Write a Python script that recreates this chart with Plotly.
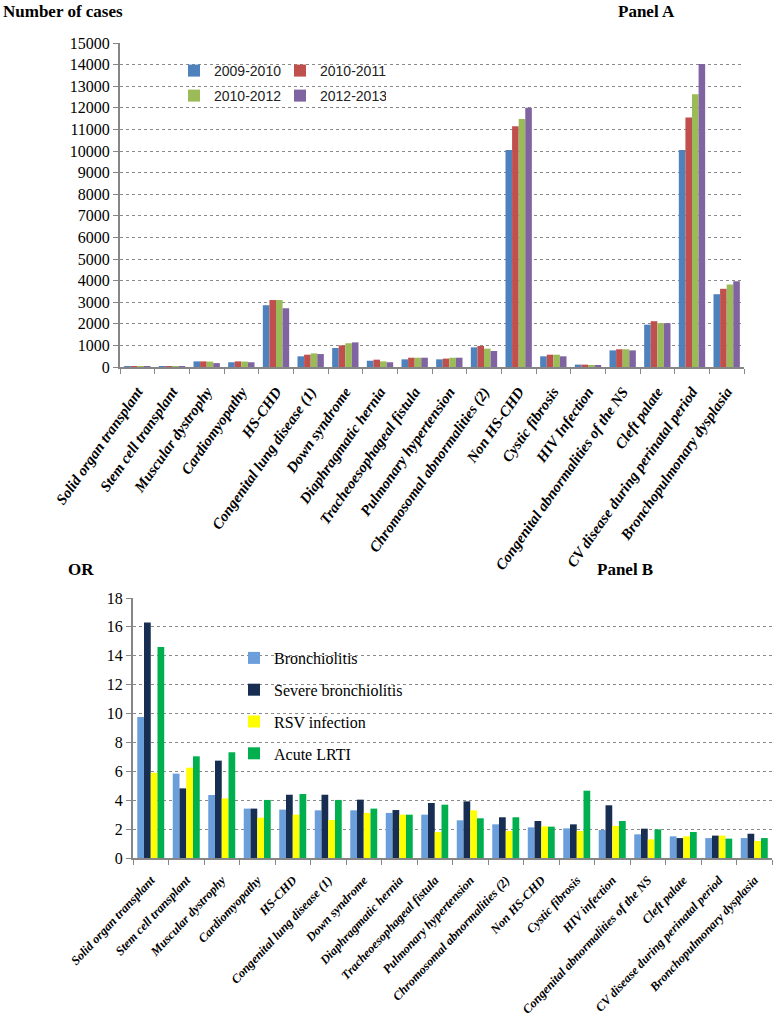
import plotly.graph_objects as go

cats_a = ["Solid organ transplant", "Stem cell transplant", "Muscular dystrophy", "Cardiomyopathy",
          "HS-CHD", "Congenital lung disease (1)", "Down syndrome", "Diaphragmatic hernia",
          "Tracheoesophageal fistula", "Pulmonary hypertension", "Chromosomal abnormalities (2)",
          "Non HS-CHD", "Cystic fibrosis", "HIV Infection", "Congenital abnormalities of the NS",
          "Cleft palate", "CV disease during perinatal period", "Bronchopulmonary dysplasia"]
cats_b = ["Solid organ transplant", "Stem cell transplant", "Muscular dystrophy", "Cardiomyopathy",
          "HS-CHD", "Congenital lung disease (1)", "Down syndrome", "Diaphragmatic hernia",
          "Tracheoesophageal fistula", "Pulmonary hypertension", "Chromosomal abnormalities (2)",
          "Non HS-CHD", "Cystic fibrosis", "HIV infection", "Congenital abnormalities of the NS",
          "Cleft palate", "CV disease during perinatal period", "Bronchopulmonary dysplasia"]

s2009_2010 = [15, 10, 260, 220, 2860, 495, 880, 290, 355, 355, 910, 10050, 495, 110, 770, 1960, 10050, 3370]
s2010_2011 = [15, 10, 260, 260, 3100, 570, 1000, 340, 430, 390, 975, 11150, 570, 110, 820, 2120, 11550, 3620]
s2010_2012 = [15, 10, 250, 250, 3100, 630, 1100, 260, 430, 430, 850, 11480, 570, 90, 820, 2030, 12630, 3820]
s2012_2013 = [15, 10, 180, 220, 2720, 600, 1140, 220, 430, 430, 740, 12000, 495, 60, 770, 2030, 14030, 3970]

bronchiolitis = [9.76, 5.84, 4.36, 3.42, 3.35, 3.30, 3.30, 3.12, 3.00, 2.61, 2.33, 2.12, 2.05, 1.94, 1.64, 1.50, 1.38, 1.38]
severe_bronch = [16.3, 4.82, 6.74, 3.42, 4.38, 4.38, 4.04, 3.32, 3.81, 3.92, 2.82, 2.56, 2.33, 3.65, 2.03, 1.38, 1.55, 1.68]
rsv_infection = [5.90, 6.25, 4.13, 2.79, 3.00, 2.63, 3.12, 3.00, 1.80, 3.30, 1.87, 2.19, 1.87, 2.22, 1.29, 1.50, 1.55, 1.18]
acute_lrti = [14.6, 7.04, 7.32, 4.02, 4.43, 4.02, 3.42, 3.00, 3.69, 2.75, 2.82, 2.17, 4.66, 2.56, 1.98, 1.80, 1.34, 1.38]

names_a = ["2009-2010", "2010-2011", "2010-2012", "2012-2013"]
colors_a = ["#4F81BD", "#C0504D", "#9BBB59", "#8064A2"]
names_b = ["Bronchiolitis", "Severe bronchiolitis", "RSV infection", "Acute LRTI"]
colors_b = ["#6A9FDC", "#172E52", "#FFFF00", "#00B04F"]

W, H = 777, 1020
SERIF = "Liberation Serif, Times New Roman, Times, serif"
SANS = "Liberation Sans, Arial, sans-serif"

fig = go.Figure()
for i, (nm, vals, col) in enumerate(zip(names_a, [s2009_2010, s2010_2011, s2010_2012, s2012_2013], colors_a)):
    fig.add_trace(go.Bar(x=cats_a, y=vals, name=nm, marker_color=col, marker_line_width=0,
                         xaxis="x", yaxis="y", legend="legend" if i < 2 else "legend2"))
for i, (nm, vals, col) in enumerate(zip(names_b, [bronchiolitis, severe_bronch, rsv_infection, acute_lrti], colors_b)):
    fig.add_trace(go.Bar(x=cats_b, y=vals, name=nm, marker_color=col, marker_line_width=0,
                         xaxis="x2", yaxis="y2", legend="legend3", legendgroup=nm))

def px_x(v):
    return v / W

def px_y(v):
    return 1 - v / H

xcommon = dict(type="category", showgrid=False, showline=True, linecolor="#868686", linewidth=2,
               ticks="outside", tickson="boundaries", ticklen=5, tickcolor="#868686", tickwidth=1,
               automargin=False, ticklabelstandoff=8)
ycommon = dict(showline=True, linecolor="#868686", linewidth=2, ticks="outside", ticklen=5,
               tickcolor="#868686", showgrid=True, gridcolor="#8a8a8a", griddash="dot", gridwidth=1,
               tickfont=dict(family=SERIF, size=16, color="black"), zeroline=False, automargin=False)

fig.update_layout(
    width=W, height=H, margin=dict(l=0, r=0, t=0, b=0, autoexpand=False),
    paper_bgcolor="white", plot_bgcolor="white",
    barmode="group", bargap=0.24, bargroupgap=0,
    xaxis=dict(xcommon, domain=[px_x(120), px_x(744)], anchor="y", tickangle=-55,
               tickfont=dict(family=SERIF, size=15, color="black"),
               tickvals=cats_a, ticktext=["<b><i>%s</i></b>" % c for c in cats_a]),
    yaxis=dict(ycommon, domain=[px_y(367), px_y(43)], anchor="x", range=[0, 15000],
               dtick=1000, tickformat="d"),
    xaxis2=dict(xcommon, domain=[px_x(133), px_x(772)], anchor="y2", tickangle=-47,
                tickfont=dict(family=SERIF, size=12.5, color="black"),
                tickvals=cats_b, ticktext=["<b><i>%s</i></b>" % c for c in cats_b]),
    yaxis2=dict(ycommon, domain=[px_y(858), px_y(598)], anchor="x2", range=[0, 18], dtick=2),
    legend=dict(orientation="h", x=px_x(174), y=px_y(71), xanchor="left", yanchor="middle",
                bgcolor="rgba(0,0,0,0)", font=dict(family=SANS, size=14, color="#222"),
                entrywidth=61, entrywidthmode="pixels", itemwidth=30),
    legend2=dict(orientation="h", x=px_x(174), y=px_y(96), xanchor="left", yanchor="middle",
                 bgcolor="rgba(0,0,0,0)", font=dict(family=SANS, size=14, color="#222"),
                 entrywidth=61, entrywidthmode="pixels", itemwidth=30),
    legend3=dict(orientation="v", x=px_x(234), y=px_y(641), xanchor="left", yanchor="top",
                 bgcolor="rgba(0,0,0,0)", font=dict(family=SERIF, size=16, color="black"),
                 tracegroupgap=8, traceorder="grouped", itemwidth=30),
    showlegend=True,
)

ann_font = dict(family=SERIF, size=17, color="black")
fig.add_annotation(text="<b>Number of cases</b>", x=px_x(1), y=px_y(12), xref="paper", yref="paper",
                   xanchor="left", yanchor="middle", showarrow=False, font=ann_font)
fig.add_annotation(text="<b>Panel A</b>", x=px_x(616), y=px_y(12), xref="paper", yref="paper",
                   xanchor="left", yanchor="middle", showarrow=False, font=ann_font)
fig.add_annotation(text="<b>OR</b>", x=px_x(66), y=px_y(569), xref="paper", yref="paper",
                   xanchor="left", yanchor="middle", showarrow=False, font=ann_font)
fig.add_annotation(text="<b>Panel B</b>", x=px_x(595), y=px_y(569), xref="paper", yref="paper",
                   xanchor="left", yanchor="middle", showarrow=False, font=ann_font)

fig.write_html("out.html", config={"displayModeBar": False},
               post_script="document.body.style.margin='0px';document.body.style.padding='0px';")
